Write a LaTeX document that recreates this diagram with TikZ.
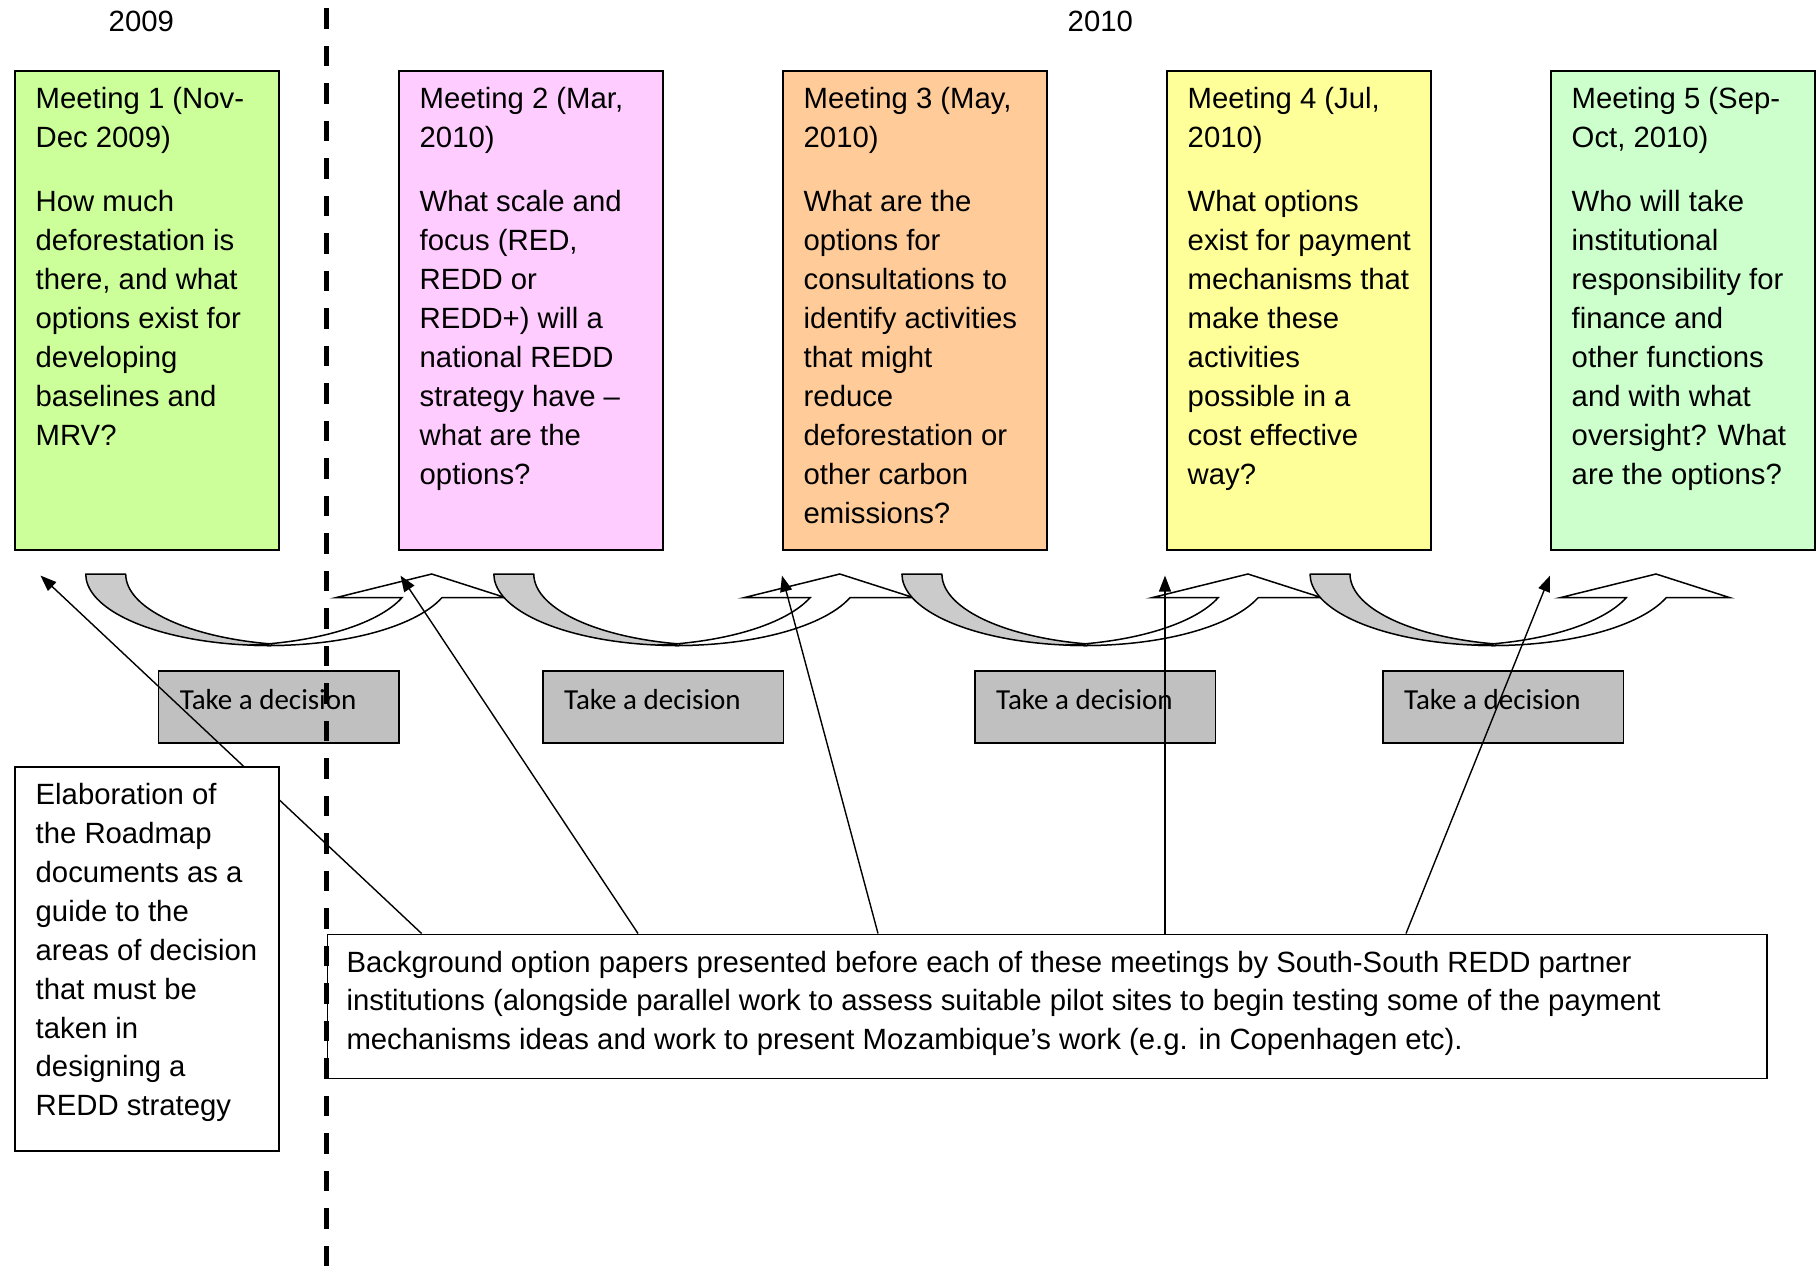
\documentclass[tikz,border=0pt]{standalone}
\usepackage{fontspec}
\setmainfont{Liberation Sans}
\newfontfamily\calib{Carlito}
\usetikzlibrary{arrows.meta,calc}
\definecolor{mOne}{HTML}{CCFF99}
\definecolor{mTwo}{HTML}{FFCCFF}
\definecolor{mThree}{HTML}{FFCC99}
\definecolor{mFour}{HTML}{FFFF99}
\definecolor{mFive}{HTML}{CCFFCC}
\definecolor{decgray}{HTML}{C0C0C0}
\definecolor{arrgray}{HTML}{CBCBCB}
\newcommand\drawcurvearrow[1]{%
  \begin{scope}[shift={(#1,574)}]
    \filldraw[cagray] (0,0) -- (40,0)
      arc[start angle=180, end angle=96.26, x radius=183.3, y radius=71.5]
      arc[start angle=83.74, end angle=180, x radius=183.3, y radius=71.5] -- cycle;
    \filldraw[cawhite] (250,23.7) -- (346,0) -- (420,23.7) -- (356.2,23.7)
      arc[start angle=19.36, end angle=96.26, x radius=183.3, y radius=71.5]
      arc[start angle=83.74, end angle=19.36, x radius=183.3, y radius=71.5] -- cycle;
  \end{scope}}
\begin{document}
\begin{tikzpicture}[x=1pt,y=-1pt,
  mbox/.style={draw=black, line width=1.5pt, anchor=north west, inner sep=0pt,
    minimum width=264pt, minimum height=479pt},
  dbox/.style={draw=black, line width=1.5pt, fill=decgray, anchor=north west,
    inner sep=0pt, minimum width=240.6pt, minimum height=72.3pt},
  wbox/.style={draw=black, line width=1.5pt, fill=white, anchor=north west, inner sep=0pt},
  txt/.style={anchor=base west, inner sep=0pt, align=left,
    font=\fontsize{29.3}{38.9}\selectfont},
  dtxt/.style={anchor=base west, inner sep=0pt, font=\calib\fontsize{29}{35}\selectfont},
  year/.style={anchor=base, inner sep=0pt, font=\fontsize{29.3}{35}\selectfont},
  conn/.style={line width=1.4pt, -{Triangle[length=16pt,width=12pt]}},
  cagray/.style={fill=arrgray, draw=black, line width=1.5pt, line join=round},
  cawhite/.style={fill=white, draw=black, line width=1.5pt, line join=miter},
  yearline/.style={line width=5.5pt, dash pattern=on 20.5pt off 17pt}
]
\useasboundingbox (0,0) rectangle (1816,1280);

% year labels
\node[year] (y2009) at (141.3,31.5) {2009};
\node[year] (y2010) at (1100.3,31.5) {2010};

% meeting boxes
\node[mbox, fill=mOne] (m1) at (14,70) {};
\node[mbox, fill=mTwo] (m2) at (398,70) {};
\node[mbox, fill=mThree] (m3) at (782,70) {};
\node[mbox, fill=mFour] (m4) at (1166,70) {};
\node[mbox, fill=mFive] (m5) at (1550,70) {};

% text nodes are anchored at the baseline of their last line
\node[txt] (m1t) at ($(m1.north west)+(21.5,375.2)$) {Meeting 1 (Nov-\\Dec 2009)\\[25.2pt]How much\\deforestation is\\there, and what\\options exist for\\developing\\baselines and\\MRV?};
\node[txt] (m2t) at ($(m2.north west)+(21.5,414.1)$) {Meeting 2 (Mar,\\2010)\\[25.2pt]What scale and\\focus (RED,\\REDD or\\REDD+) will a\\national REDD\\strategy have –\\what are the\\options?};
\node[txt] (m3t) at ($(m3.north west)+(21.5,453)$) {Meeting 3 (May,\\2010)\\[25.2pt]What are the\\options for\\consultations to\\identify activities\\that might\\reduce\\deforestation or\\other carbon\\emissions?};
\node[txt] (m4t) at ($(m4.north west)+(21.5,414.1)$) {Meeting 4 (Jul,\\2010)\\[25.2pt]What options\\exist for payment\\mechanisms that\\make these\\activities\\possible in a\\cost effective\\way?};
\node[txt] (m5t) at ($(m5.north west)+(21.5,414.1)$) {Meeting 5 (Sep-\\Oct, 2010)\\[25.2pt]Who will take\\institutional\\responsibility for\\finance and\\other functions\\and with what\\oversight? What\\are the options?};

% curved arrows
\drawcurvearrow{85.7}
\drawcurvearrow{493.8}
\drawcurvearrow{901.9}
\drawcurvearrow{1310}

% decision boxes
\node[dbox] (d1) at (157.7,670) {};
\node[dbox] (d2) at (542,670) {};
\node[dbox] (d3) at (974,670) {};
\node[dbox] (d4) at (1382,670) {};
\foreach \i in {1,...,4}{
  \node[dtxt] (d\i t) at ($(d\i.north west)+(22,39.3)$) {Take a decision};
}

% background box
\node[wbox, minimum width=1439.5pt, minimum height=144pt] (bg) at (326.5,933.5) {};
\node[txt] (bgt) at ($(bg.north west)+(19.8,116.3)$) {Background option papers presented before each of these meetings by South-South REDD partner\\institutions (alongside parallel work to assess suitable pilot sites to begin testing some of the payment\\mechanisms ideas and work to present Mozambique’s work (e.g. in Copenhagen etc).};

% connector coordinates
\coordinate (s1) at (421.6,933.5);
\coordinate (s2) at (638,933.5);
\coordinate (s3) at (878,933.5);
\coordinate (s4) at (1165,933.5);
\coordinate (s5) at (1406,933.5);
\coordinate (t1) at (40.5,575.6);
\coordinate (t2) at (400.5,575.6);
\coordinate (t3) at (782,575.6);
\coordinate (t4) at (1165,575.6);
\coordinate (t5) at (1550,575.6);
\foreach \i in {1,...,5}{ \draw[conn] (s\i) -- (t\i); }

% elaboration box
\node[wbox, minimum width=264pt, minimum height=384pt] (el) at (14,766) {};
\node[txt] (elt) at ($(el.north west)+(21.5,349.8)$) {Elaboration of\\the Roadmap\\documents as a\\guide to the\\areas of decision\\that must be\\taken in\\designing a\\REDD strategy};

% year divider
\coordinate (ltop) at (326.3,8.3);
\coordinate (lbot) at (326.3,1280);
\draw[yearline] (ltop) -- (lbot);
\end{tikzpicture}
\end{document}
